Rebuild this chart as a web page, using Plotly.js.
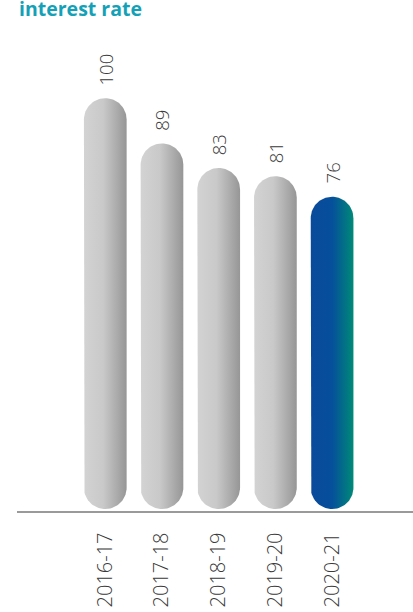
<!DOCTYPE html>
<html>
<head>
<meta charset="utf-8">
<script src="https://cdn.plot.ly/plotly-3.0.1.min.js"></script>
<style>
  html, body { margin: 0; padding: 0; background: #ffffff; }
  #chart { width: 413px; height: 612px; }
</style>
</head>
<body>
<div id="chart"></div>
<script>
// Index of interest rate, by financial year
const years = ['2016-17', '2017-18', '2018-19', '2019-20', '2020-21'];
const values = [100, 89, 83, 81, 76];
const highlightYear = '2020-21';

// Layout geometry
const W = 413, H = 612;
const margin = { l: 17, r: 0, t: 30, b: 101 };
const xRange = [-1.557, 5.427];
const yRange = [-0.487, 116.6];
const barHalfWidthPx = 21.35;

const plotW = W - margin.l - margin.r;
const plotH = H - margin.t - margin.b;
const pxPerX = plotW / (xRange[1] - xRange[0]);
const pxPerY = plotH / (yRange[1] - yRange[0]);

// Pill-shaped outline (rounded at both ends) in data units for one bar
function pillOutline(cx, v) {
  const hw = barHalfWidthPx / pxPerX;      // half width in x units
  const ry = barHalfWidthPx / pxPerY;      // cap radius in y units
  const xs = [], ys = [];
  const n = 40;
  // top cap, from right to left
  for (let k = 0; k <= n; k++) {
    const a = Math.PI * k / n;
    xs.push(cx + hw * Math.cos(a));
    ys.push(v - ry + ry * Math.sin(a));
  }
  // bottom cap, from left to right
  for (let k = 0; k <= n; k++) {
    const a = Math.PI + Math.PI * k / n;
    xs.push(cx + hw * Math.cos(a));
    ys.push(ry + ry * Math.sin(a));
  }
  xs.push(xs[0]); ys.push(ys[0]);
  return { xs, ys };
}

const greyScale = [[0, '#d3d3d3'], [0.45, '#c9c9c9'], [1, '#969696']];
const blueScale = [[0, '#0a4a9c'], [0.5, '#054f9b'], [1, '#008a78']];

const traces = years.map((yr, i) => {
  const p = pillOutline(i, values[i]);
  const hi = yr === highlightYear;
  return {
    type: 'scatter',
    mode: 'lines',
    x: p.xs,
    y: p.ys,
    fill: 'toself',
    fillcolor: hi ? '#0a4a9c' : '#c4c4c4',
    fillgradient: { type: 'horizontal', colorscale: hi ? blueScale : greyScale },
    line: { width: 0, color: 'rgba(0,0,0,0)' },
    hoverinfo: 'skip',
    showlegend: false
  };
});

const labelFont = { family: 'Open Sans, sans-serif', size: 18.5, color: '#3a3a3a', weight: 300 };
const tickFont = { family: 'Open Sans, sans-serif', size: 20, color: '#3a3a3a', weight: 300 };

const annotations = years.map((yr, i) => ({
  x: i,
  y: values[i],
  xref: 'x',
  yref: 'y',
  text: String(values[i]),
  showarrow: false,
  textangle: -90,
  xanchor: 'center',
  yanchor: 'bottom',
  yshift: 11,
  font: labelFont
}));

annotations.push({
  text: '<b>interest rate</b>',
  xref: 'paper', yref: 'paper',
  x: 0, xanchor: 'left',
  y: 1 + 6 / plotH, yanchor: 'bottom',
  showarrow: false,
  font: { family: 'Open Sans, sans-serif', size: 19.5, color: '#14a0b6' }
});

const layout = {
  width: W,
  height: H,
  margin: margin,
  paper_bgcolor: '#ffffff',
  plot_bgcolor: '#ffffff',
  showlegend: false,
  xaxis: {
    range: xRange,
    tickmode: 'array',
    tickvals: years.map((_, i) => i),
    ticktext: years,
    tickangle: -90,
    ticks: '',
    ticklabelstandoff: 12,
    tickfont: tickFont,
    showgrid: false,
    zeroline: false,
    showline: true,
    linecolor: '#9a9a9a',
    linewidth: 1.5,
    fixedrange: true
  },
  yaxis: {
    range: yRange,
    showticklabels: false,
    showgrid: false,
    zeroline: false,
    showline: false,
    ticks: '',
    fixedrange: true
  },
  annotations: annotations
};

Plotly.newPlot('chart', traces, layout, { displayModeBar: false, staticPlot: true });
</script>
</body>
</html>
